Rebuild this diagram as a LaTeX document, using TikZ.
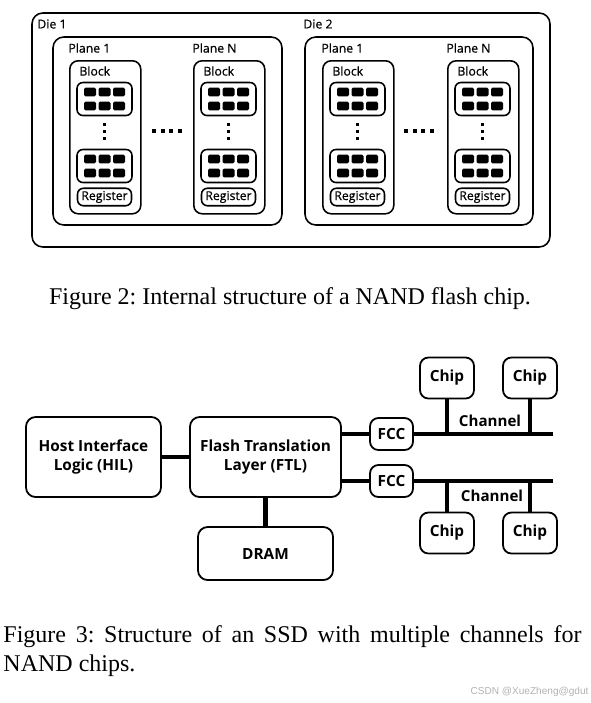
\documentclass[tikz,border=0pt]{standalone}
\usepackage{fontspec}
\setmainfont{Liberation Serif}
\newfontfamily\diafont{Open Sans}
\newfontfamily\lblfont[FakeBold=0.6]{Open Sans}
\newfontfamily\wmfont{Liberation Sans}
\usetikzlibrary{positioning}
\newcommand{\pxu}{0.4167pt}
\frenchspacing

\begin{document}
\begin{tikzpicture}[
        x=\pxu, y=-\pxu,
        box/.style={draw, line width=0.65pt, inner sep=0pt},
        diebox/.style={box, rounded corners=4.5pt},
        planebox/.style={box, rounded corners=3.5pt, minimum width=71*\pxu, minimum height=153*\pxu},
        blockbox/.style={box, rounded corners=2.5pt, minimum width=55*\pxu, minimum height=33*\pxu},
        regbox/.style={box, rounded corners=2.5pt, minimum width=54*\pxu, minimum height=17.5*\pxu, font=\lblfont\fontsize{5.1}{5.5}\selectfont},
        lbl/.style={anchor=west, inner sep=0pt, font=\lblfont\fontsize{5.1}{5.5}\selectfont},
        cell/.style={fill=black, rounded corners=0.6pt},
        dot/.style={fill=black},
        ssd/.style={box, line width=0.75pt, rounded corners=4pt, align=center, font=\diafont\bfseries\fontsize{6.4}{7.8}\selectfont},
        fcc/.style={ssd, rounded corners=3.5pt, minimum width=43*\pxu, minimum height=32*\pxu},
        chipbox/.style={ssd, rounded corners=3.5pt, minimum width=54*\pxu, minimum height=41*\pxu},
        chlbl/.style={inner sep=0pt, font=\diafont\bfseries\fontsize{6.3}{7}\selectfont},
        bus/.style={line width=1.8pt}
    ]
        \useasboundingbox (0,0) rectangle (591,703);

        % Figure 2: dies, planes, blocks
        \node[diebox, minimum width=518*\pxu, minimum height=234*\pxu] (chip) at (291,130) {};
        \node[lbl] (die1lbl) at (37,24) {Die 1};
        \node[lbl] (die2lbl) at (303,24) {Die 2};
        \node[diebox, minimum width=229*\pxu, minimum height=188*\pxu] (die1) at (167.5,131) {};
        \node[diebox, minimum width=228*\pxu, minimum height=188*\pxu] (die2) at (419,131) {};

        \foreach \lx/\nm/\pn in {69/a/1, 193/b/N, 322/c/1, 447/d/N} {
            \node[planebox, anchor=north west] (pl\nm) at (\lx,60) {};
            \node[lbl] (pllbl\nm) at (\lx-1,48) {Plane \pn};
            \node[lbl] (bklbl\nm) at (\lx+10,71) {Block};
            \node[blockbox] (bkt\nm) at (\lx+35.5,99) {};
            \node[blockbox] (bkb\nm) at (\lx+35.5,166) {};
            \node[regbox] (rg\nm) at (\lx+35.5,197) {Register};
            \foreach \by in {99,166}
                \foreach \cx in {-14.5,0,14.5}
                    \foreach \cy in {-7,7}
                        \fill[cell] (\lx+35.5+\cx-6,\by+\cy-4.3) rectangle ++(12,8.6);
            \foreach \dy in {-7,0,7}
                \fill[dot] (\lx+33.5,131.5+\dy-1.7) rectangle ++(3,3.4);
        }
        \foreach \mx in {167,419}
            \foreach \dx in {-13,-4.3,4.3,13}
                \fill[dot] (\mx+\dx-2,131-2) rectangle ++(4,4);

        \node[font=\fontsize{10}{12}\selectfont] (cap2) at (290,299) {Figure 2: Internal structure of a NAND flash chip.};

        % Figure 3: SSD with channels
        \node[ssd, minimum width=135*\pxu, minimum height=80*\pxu] (hil) at (93.5,457) {Host Interface\\Logic (HIL)};
        \node[ssd, minimum width=151*\pxu, minimum height=80*\pxu] (ftl) at (265.5,457) {Flash Translation\\Layer (FTL)};
        \node[ssd, minimum width=135*\pxu, minimum height=53*\pxu] (dram) at (265.5,553.5) {DRAM};
        \node[fcc] (fcca) at (391.5,434) {FCC};
        \node[fcc] (fccb) at (391.5,481) {FCC};
        \node[chipbox] (chipa) at (447,378) {Chip};
        \node[chipbox] (chipb) at (530,378) {Chip};
        \node[chipbox] (chipc) at (447,533) {Chip};
        \node[chipbox] (chipd) at (530,533) {Chip};
        \node[chlbl] (cha) at (490,421) {Channel};
        \node[chlbl] (chb) at (492,496) {Channel};
        \coordinate (enda) at (553,434);
        \coordinate (endb) at (553,481);

        \draw[bus] (hil) -- (ftl);
        \draw[bus] (ftl) -- (dram);
        \draw[bus] (ftl.east |- fcca) -- (fcca);
        \draw[bus] (ftl.east |- fccb) -- (fccb);
        \draw[bus] (fcca) -- (enda);
        \draw[bus] (fccb) -- (endb);
        \draw[bus] (chipa) -- (chipa |- enda);
        \draw[bus] (chipb) -- (chipb |- enda);
        \draw[bus] (chipc) -- (chipc |- endb);
        \draw[bus] (chipd) -- (chipd |- endb);

        \node[anchor=north west, text width=578*\pxu, align=justify, inner sep=0pt, font=\fontsize{10}{12}\selectfont] (cap3) at (3,625) {\tolerance=9999 Figure 3: Structure of an SSD with multiple channels for NAND chips.};
        \node[anchor=east, inner sep=0pt, text=black!30, font=\wmfont\fontsize{4.2}{5}\selectfont] (wm) at (589,692) {CSDN @XueZheng@gdut};

    \end{tikzpicture}
\end{document}
